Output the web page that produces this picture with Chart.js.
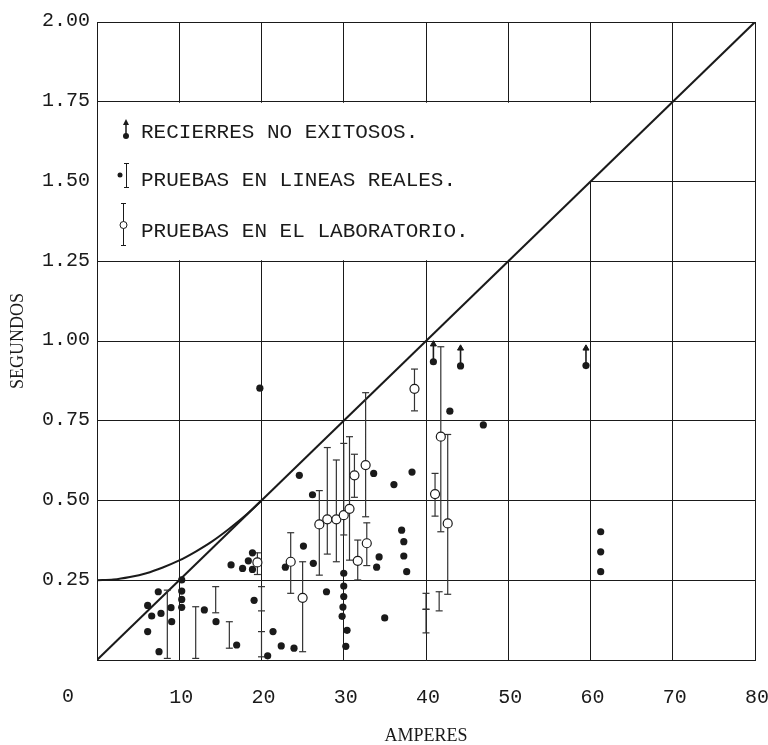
<!DOCTYPE html>
<html>
<head>
<meta charset="utf-8">
<script src="https://cdn.jsdelivr.net/npm/chart.js@4"></script>
<style>
  html, body { margin: 0; padding: 0; background: #fff; }
  #wrap { width: 768px; height: 745px; }
</style>
</head>
<body>
<div id="wrap"><canvas id="chart" width="768" height="745"></canvas></div>
<script>
// tick values
const X_TICKS = [0, 10, 20, 30, 40, 50, 60, 70, 80];
const Y_TICKS = [0, 0.25, 0.5, 0.75, 1.0, 1.25, 1.5, 1.75, 2.0];

// pruebas en lineas reales (puntos negros)
const realX = [7.45, 10.3, 10.3, 10.3, 10.3, 6.16, 6.65, 7.78, 9.0, 9.08, 6.16, 7.54, 13.05, 14.47, 16.98,
  19.1, 16.3, 17.7, 18.4, 18.9, 18.9, 20.75, 21.4, 22.4, 23.95, 25.1, 22.9, 26.3, 27.9,
  30.0, 30.0, 30.0, 29.9, 29.8, 30.4, 30.25, 34.98, 34.3, 34.0, 37.04, 37.3, 37.3, 37.65,
  24.6, 26.2, 33.64, 36.1, 38.3, 19.8, 42.9, 46.97, 61.24, 61.24, 61.24];
const realY = [0.214, 0.251, 0.216, 0.190, 0.165, 0.171, 0.138, 0.146, 0.164, 0.120, 0.089, 0.026, 0.157, 0.120, 0.047,
  0.187, 0.298, 0.287, 0.311, 0.336, 0.284, 0.013, 0.089, 0.044, 0.037, 0.357, 0.291, 0.303, 0.214,
  0.272, 0.232, 0.199, 0.166, 0.137, 0.093, 0.043, 0.132, 0.323, 0.291, 0.407, 0.371, 0.326, 0.277,
  0.579, 0.518, 0.585, 0.550, 0.589, 0.852, 0.780, 0.737, 0.402, 0.339, 0.277];

// rangos sin punto (lineas reales)
const barX  = [8.55, 12.0, 14.43, 16.09, 20.0, 20.0, 40.0, 40.0, 41.6];
const barLo = [0.005, 0.005, 0.148, 0.037, 0.154, 0.010, 0.159, 0.085, 0.154];
const barHi = [0.219, 0.167, 0.230, 0.120, 0.230, 0.089, 0.209, 0.159, 0.214];

// pruebas en el laboratorio (circulos blancos)
const labX  = [19.5, 23.55, 25.0, 27.03, 28.0, 29.1, 30.0, 30.7, 31.3, 31.7, 32.66, 32.8, 38.6, 41.1, 41.8, 42.64];
const labY  = [0.306, 0.308, 0.195, 0.425, 0.441, 0.441, 0.454, 0.474, 0.579, 0.311, 0.611, 0.366, 0.850, 0.520, 0.700, 0.428];
const labLo = [0.268, 0.209, 0.026, 0.266, 0.332, 0.308, 0.392, 0.313, 0.510, 0.251, 0.449, 0.296, 0.781, 0.451, 0.402, 0.206];
const labHi = [0.336, 0.399, 0.308, 0.531, 0.666, 0.627, 0.679, 0.700, 0.645, 0.376, 0.838, 0.430, 0.912, 0.585, 0.982, 0.707];

// recierres no exitosos
const failX   = [40.9, 44.2, 59.45];
const failY   = [0.935, 0.922, 0.923];
const failTop = [0.99, 0.977, 0.977];

// curva y recta limite
const curveX = [0, 2, 4, 6, 8, 10, 12, 14, 16, 18, 20];
const curveY = [0.25, 0.252, 0.26, 0.272, 0.29, 0.312, 0.34, 0.372, 0.41, 0.452, 0.5];
const diagX = [0, 80];
const diagY = [0, 2.0];

const INK = "#1a1a1a";
const MONO = "'Liberation Mono', 'DejaVu Sans Mono', monospace";
const SERIF = "'Liberation Serif', 'DejaVu Serif', serif";

function pts(xs, ys) {
  return xs.map(function (x, i) { return { x: x, y: ys[i] }; });
}

function segments(xs, lo, hi) {
  const out = [];
  xs.forEach(function (x, i) {
    out.push({ x: x, y: lo[i] });
    out.push({ x: x, y: hi[i] });
    out.push({ x: x, y: null });
  });
  return out;
}

const labBars = segments(labX, labLo, labHi);
const looseBars = segments(barX, barLo, barHi);
const arrows = segments(failX, failY, failTop);

// white legend panel + labels
const legendPanel = {
  id: "legendPanel",
  beforeDatasetsDraw(chart) {
    const { ctx, scales: { x, y } } = chart;
    ctx.save();
    ctx.fillStyle = "#fff";
    ctx.beginPath();
    ctx.moveTo(x.getPixelForValue(0) + 1, y.getPixelForValue(1.25) - 1);
    ctx.lineTo(x.getPixelForValue(50), y.getPixelForValue(1.25) - 1);
    ctx.lineTo(x.getPixelForValue(70), y.getPixelForValue(1.75) + 1);
    ctx.lineTo(x.getPixelForValue(0) + 1, y.getPixelForValue(1.75) + 1);
    ctx.closePath();
    ctx.fill();

    ctx.fillStyle = INK;
    ctx.strokeStyle = INK;
    ctx.font = "21px " + MONO;
    ctx.textBaseline = "middle";
    ctx.fillText("RECIERRES NO EXITOSOS.", 141, 132);
    ctx.fillText("PRUEBAS EN LINEAS REALES.", 141, 180);
    ctx.fillText("PRUEBAS EN EL LABORATORIO.", 141, 231);

    // arrow symbol
    ctx.lineWidth = 1.5;
    ctx.beginPath(); ctx.moveTo(126, 136); ctx.lineTo(126, 124); ctx.stroke();
    ctx.beginPath(); ctx.moveTo(126, 119); ctx.lineTo(123, 125); ctx.lineTo(129, 125); ctx.closePath(); ctx.fill();
    ctx.beginPath(); ctx.arc(126, 136, 3, 0, Math.PI * 2); ctx.fill();

    // dot + bar symbol
    ctx.lineWidth = 1;
    ctx.beginPath(); ctx.arc(120, 175, 2.5, 0, Math.PI * 2); ctx.fill();
    ctx.beginPath();
    ctx.moveTo(126.5, 163); ctx.lineTo(126.5, 188);
    ctx.moveTo(124, 163.5); ctx.lineTo(129, 163.5);
    ctx.moveTo(124, 187.5); ctx.lineTo(129, 187.5);
    ctx.stroke();

    // open circle + bar symbol
    ctx.beginPath();
    ctx.moveTo(123.5, 203); ctx.lineTo(123.5, 246);
    ctx.moveTo(121, 203.5); ctx.lineTo(126, 203.5);
    ctx.moveTo(121, 245.5); ctx.lineTo(126, 245.5);
    ctx.stroke();
    ctx.fillStyle = "#fff";
    ctx.beginPath(); ctx.arc(123.5, 225, 3.5, 0, Math.PI * 2); ctx.fill(); ctx.stroke();
    ctx.restore();
  },
  afterDraw(chart) {
    // origin label sits left of the axis
    const { ctx, scales: { x }, chartArea } = chart;
    ctx.save();
    ctx.fillStyle = INK;
    ctx.font = "20px " + MONO;
    ctx.textAlign = "center";
    ctx.textBaseline = "middle";
    ctx.fillText("0", x.getPixelForValue(0) - 29, chartArea.bottom + 37);
    ctx.restore();
  }
};

new Chart(document.getElementById("chart"), {
  type: "scatter",
  data: {
    datasets: [
      {
        label: "recta",
        type: "line",
        data: pts(diagX, diagY),
        borderColor: INK,
        borderWidth: 2,
        pointRadius: 0,
        order: 6
      },
      {
        label: "curva",
        type: "line",
        data: pts(curveX, curveY),
        borderColor: INK,
        borderWidth: 2,
        pointRadius: 0,
        cubicInterpolationMode: "monotone",
        order: 6
      },
      {
        label: "rangos lab",
        type: "line",
        data: labBars,
        borderColor: "#333",
        borderWidth: 1.2,
        pointStyle: "line",
        pointRadius: 3.5,
        pointBorderWidth: 1.2,
        pointBorderColor: "#333",
        spanGaps: false,
        order: 4
      },
      {
        label: "rangos reales",
        type: "line",
        data: looseBars,
        borderColor: "#333",
        borderWidth: 1.2,
        pointStyle: "line",
        pointRadius: 3.5,
        pointBorderWidth: 1.2,
        pointBorderColor: "#333",
        spanGaps: false,
        order: 4
      },
      {
        label: "flechas",
        type: "line",
        data: arrows,
        borderColor: INK,
        borderWidth: 1.6,
        pointStyle: "triangle",
        pointRadius: function (c) { return c.dataIndex % 3 === 1 ? 3.5 : 0; },
        pointBackgroundColor: INK,
        pointBorderColor: INK,
        pointBorderWidth: 1,
        spanGaps: false,
        order: 3
      },
      {
        label: "RECIERRES NO EXITOSOS.",
        data: pts(failX, failY),
        pointRadius: 3.6,
        pointBackgroundColor: INK,
        pointBorderColor: INK,
        pointBorderWidth: 0,
        order: 1
      },
      {
        label: "PRUEBAS EN LINEAS REALES.",
        data: pts(realX, realY),
        pointRadius: 3.6,
        pointBackgroundColor: INK,
        pointBorderColor: INK,
        pointBorderWidth: 0,
        order: 1
      },
      {
        label: "PRUEBAS EN EL LABORATORIO.",
        data: pts(labX, labY),
        pointRadius: 4.5,
        pointBackgroundColor: "#fff",
        pointBorderColor: INK,
        pointBorderWidth: 1.2,
        order: 0
      }
    ]
  },
  options: {
    responsive: false,
    animation: false,
    layout: { padding: { top: 22, right: 13, left: 0, bottom: 0 } },
    plugins: {
      legend: { display: false },
      tooltip: { enabled: false }
    },
    scales: {
      x: {
        type: "linear",
        min: 0,
        max: 80,
        afterBuildTicks: function (s) { s.ticks = X_TICKS.map(function (v) { return { value: v }; }); },
        afterFit: function (s) { s.height = 85; s.paddingLeft = 0; s.paddingRight = 0; },
        grid: { color: INK, lineWidth: 1, drawTicks: false },
        border: { display: true, color: INK, width: 1 },
        ticks: {
          color: INK,
          font: { family: MONO, size: 20 },
          padding: 26,
          labelOffset: 2,
          maxRotation: 0,
          callback: function (v) { return v === 0 ? "" : String(v); }
        },
        title: {
          display: true,
          text: "AMPERES",
          color: INK,
          font: { family: SERIF, size: 18, lineHeight: 1 },
          padding: { top: 0, bottom: 0 }
        }
      },
      y: {
        type: "linear",
        min: 0,
        max: 2.0,
        afterBuildTicks: function (s) { s.ticks = Y_TICKS.map(function (v) { return { value: v }; }); },
        afterFit: function (s) { s.width = 97; s.paddingTop = 0; s.paddingBottom = 0; },
        grid: { color: INK, lineWidth: 1, drawTicks: false },
        border: { display: true, color: INK, width: 1 },
        ticks: {
          color: INK,
          font: { family: MONO, size: 20 },
          padding: 7,
          labelOffset: -1,
          callback: function (v) { return v === 0 ? "" : v.toFixed(2); }
        },
        title: {
          display: true,
          text: "SEGUNDOS",
          color: INK,
          font: { family: SERIF, size: 18, lineHeight: 1 },
          padding: { top: 9, bottom: 0 }
        }
      }
    }
  },
  plugins: [legendPanel]
});
</script>
</body>
</html>
